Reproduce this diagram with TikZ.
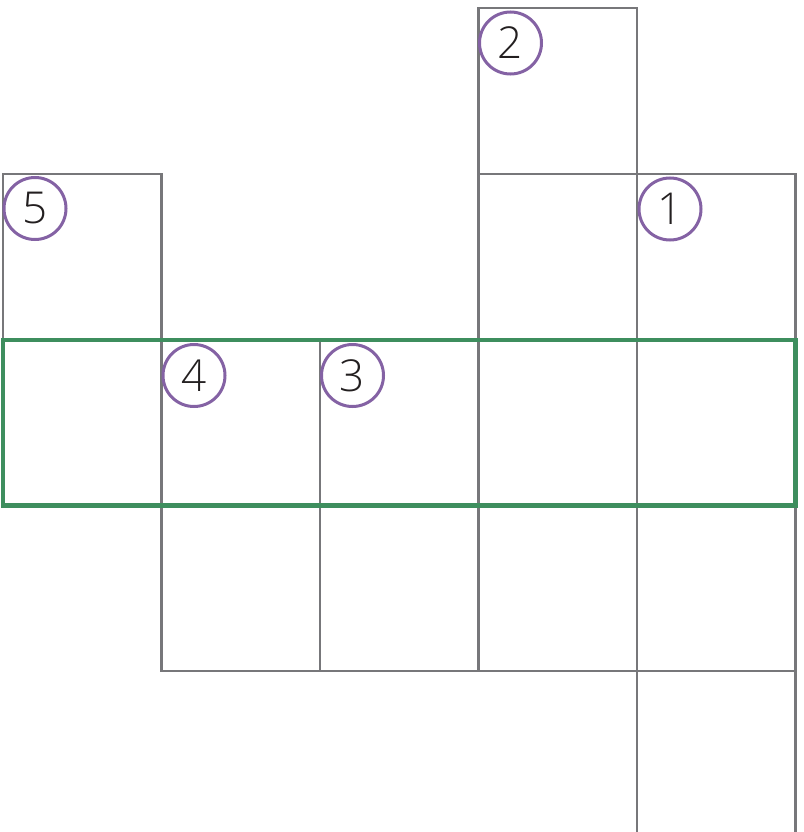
\documentclass[tikz,border=0pt]{standalone}
\usepackage{fontspec}
\setmainfont{Open Sans}[UprightFont={* Light}]
\definecolor{gridgray}{HTML}{77777A}
\definecolor{rowgreen}{HTML}{3E8E5E}
\definecolor{markpurple}{HTML}{8462A4}
\definecolor{digitink}{HTML}{231F20}
\begin{document}
\begin{tikzpicture}[x=1pt,y=-1pt,
  cell/.style={draw=gridgray,line width=2.5pt},
  band/.style={draw=rowgreen,line width=4.5pt},
  marker/.style={circle,draw=markpurple,line width=3pt,minimum size=62pt,inner sep=0pt,
    text=digitink,font=\fontsize{44}{44}\selectfont}]
\useasboundingbox (0,0) rectangle (803,832);
% cells
\draw[cell] (478.5,8) rectangle (637,174);
\draw[cell] (3,174) rectangle (161.5,340);
\draw[cell] (478.5,174) rectangle (637,340);
\draw[cell] (637,174) rectangle (795.5,340);
\foreach \a/\b in {3/161.5,161.5/320,320/478.5,478.5/637,637/795.5}
  \draw[cell] (\a,340) rectangle (\b,505.5);
\foreach \a/\b in {161.5/320,320/478.5,478.5/637,637/795.5}
  \draw[cell] (\a,505.5) rectangle (\b,671);
\draw[cell] (637,671) -- (637,832);
\draw[cell] (795.5,671) -- (795.5,832);
% green band
\draw[band] (3,340) rectangle (795.5,505.5);
% markers
\node[marker] (m2) at (510.5,43) {2};
\node[marker] (m5) at (35,208.5) {5};
\node[marker] (m1) at (670,209) {1};
\node[marker] (m4) at (194,375.5) {4};
\node[marker] (m3) at (352.5,375.5) {3};
\end{tikzpicture}
\end{document}
